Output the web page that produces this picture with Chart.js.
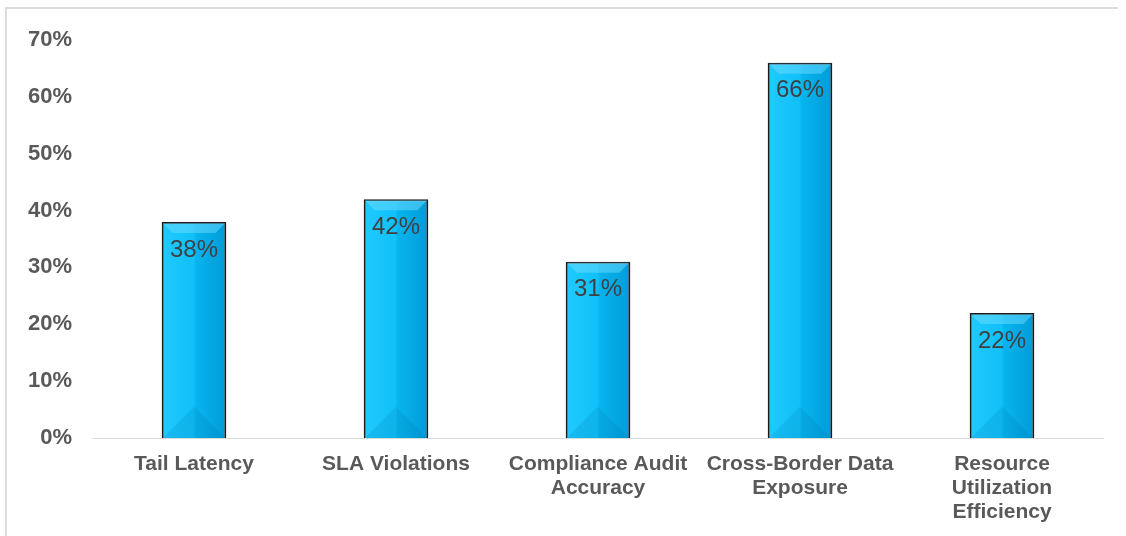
<!DOCTYPE html>
<html>
<head>
<meta charset="utf-8">
<script src="https://cdn.jsdelivr.net/npm/chart.js@4.4.1/dist/chart.umd.min.js"></script>
<style>
  html, body { margin: 0; padding: 0; background: #fff; }
  #wrap { width: 1126px; height: 536px; position: relative; }
</style>
</head>
<body>
<div id="wrap"><canvas id="myChart" width="1126" height="536"></canvas></div>
<script>
// categories and values
var categories = [
  "Tail Latency",
  "SLA Violations",
  ["Compliance Audit", "Accuracy"],
  ["Cross-Border Data", "Exposure"],
  ["Resource", "Utilization", "Efficiency"]
];
var values = [38, 42, 31, 66, 22];
var yTicks = [0, 10, 20, 30, 40, 50, 60, 70];

var FONT = "'Liberation Sans', Arial, sans-serif";
var BAR_PCT = 0.32;

// horizontal gradient per bar, placed from the x scale
function barFill(context) {
  var chart = context.chart;
  var xs = chart.scales.x;
  if (!xs || context.dataIndex == null) return "#10bff5";
  var cx = xs.getPixelForValue(context.dataIndex);
  var half = (xs.width / categories.length) * BAR_PCT / 2;
  if (!isFinite(cx) || !isFinite(half) || half <= 0) return "#10bff5";
  var g = chart.ctx.createLinearGradient(cx - half, 0, cx + half, 0);
  g.addColorStop(0, "#20caff");
  g.addColorStop(0.5, "#10c0f8");
  g.addColorStop(0.52, "#08b5ee");
  g.addColorStop(1, "#009bd8");
  return g;
}

// frame, bevels and value labels
var decor = {
  id: "decor",
  beforeDraw: function(chart) {
    var ctx = chart.ctx;
    ctx.save();
    ctx.strokeStyle = "#dcdcdc";
    ctx.lineWidth = 2;
    ctx.beginPath();
    ctx.moveTo(6, 536);
    ctx.lineTo(6, 8);
    ctx.lineTo(1118, 8);
    ctx.stroke();
    ctx.restore();
  },
  afterDatasetsDraw: function(chart) {
    var ctx = chart.ctx;
    var meta = chart.getDatasetMeta(0);
    meta.data.forEach(function(bar, i) {
      var half = bar.width / 2;
      var l = bar.x - half + 1, r = bar.x + half - 1;
      var t = bar.y + 1, b = bar.base;
      var bev = 10;
      ctx.save();
      // top bevel
      ctx.fillStyle = "rgba(110,220,255,0.5)";
      ctx.beginPath();
      ctx.moveTo(l, t);
      ctx.lineTo(r, t);
      ctx.lineTo(r - bev, t + bev);
      ctx.lineTo(l + bev, t + bev);
      ctx.closePath();
      ctx.fill();
      // bottom bevel
      var w = r - l;
      ctx.fillStyle = "rgba(0,110,170,0.16)";
      ctx.beginPath();
      ctx.moveTo(l, b);
      ctx.lineTo(l + w / 2, b - w / 2);
      ctx.lineTo(r, b);
      ctx.closePath();
      ctx.fill();
      // value label
      ctx.fillStyle = "#404040";
      ctx.font = "24px " + FONT;
      ctx.textAlign = "center";
      ctx.textBaseline = "middle";
      ctx.fillText(values[i] + "%", bar.x, bar.y + 28);
      ctx.restore();
    });
  }
};

new Chart("myChart", {
  type: "bar",
  data: {
    labels: categories,
    datasets: [{
      data: values,
      backgroundColor: barFill,
      borderColor: "#1b1b1b",
      borderWidth: 2,
      borderSkipped: "bottom",
      categoryPercentage: 1,
      barPercentage: BAR_PCT
    }]
  },
  options: {
    responsive: false,
    animation: false,
    devicePixelRatio: 1,
    layout: { padding: { top: 40, right: 23, left: 0, bottom: 0 } },
    plugins: { legend: { display: false }, tooltip: { enabled: false } },
    scales: {
      x: {
        grid: { display: false, drawTicks: false },
        border: { display: true, color: "#d9d9d9", width: 1 },
        ticks: {
          padding: 14,
          color: "#595959",
          maxRotation: 0,
          autoSkip: false,
          font: { family: FONT, size: 21, weight: "bold", lineHeight: 1.15 }
        },
        afterFit: function(scale) { scale.height = 98; }
      },
      y: {
        min: 0,
        max: 70,
        afterBuildTicks: function(scale) {
          scale.ticks = yTicks.map(function(v) { return { value: v }; });
        },
        grid: { display: false, drawTicks: false },
        border: { display: false },
        ticks: {
          padding: 21,
          color: "#595959",
          callback: function(v) { return v + "%"; },
          font: { family: FONT, size: 22, weight: "bold" }
        },
        afterFit: function(scale) { scale.width = 93; }
      }
    }
  },
  plugins: [decor]
});
</script>
</body>
</html>
